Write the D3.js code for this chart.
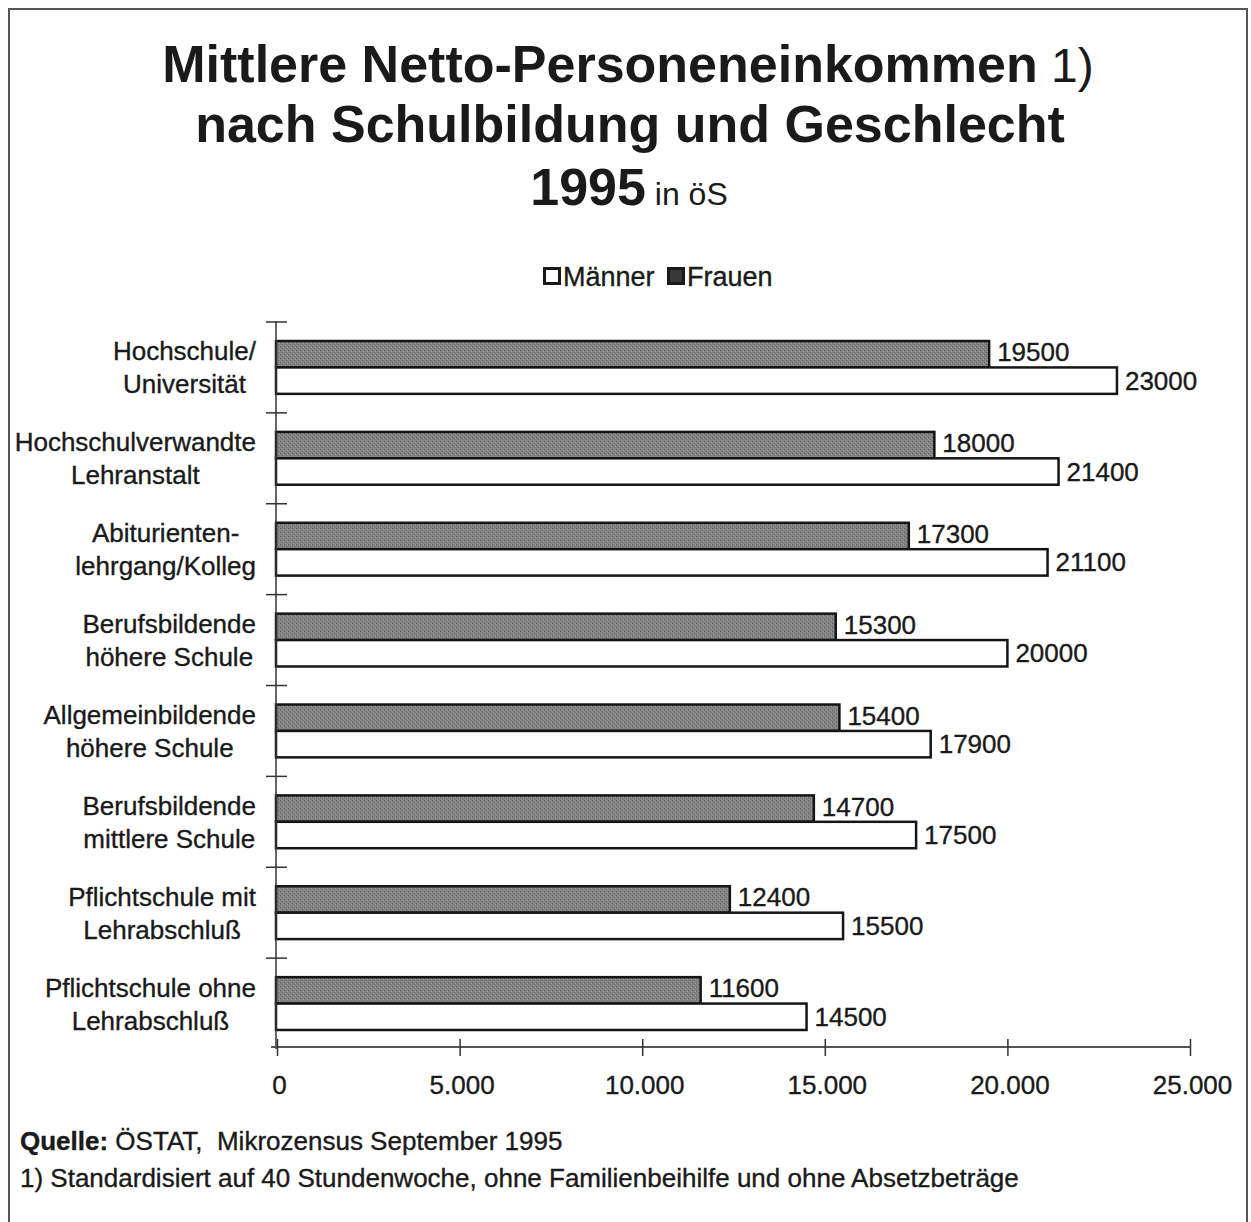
<!DOCTYPE html>
<html>
<head>
<meta charset="utf-8">
<script src="https://cdn.jsdelivr.net/npm/d3@7"></script>
<style>
  html, body { margin: 0; padding: 0; background: #fff; }
  svg { display: block; }
  text { font-family: "Liberation Sans", Arial, Helvetica, sans-serif; fill: #1a1a1a; }
  text.reg { stroke: #1a1a1a; stroke-width: 0.35px; }
</style>
</head>
<body>
<svg id="chart" width="1251" height="1222"></svg>
<script>
// Schulbildung categories (top to bottom), each label split into two lines
const categories = [
  "Hochschule/|Universität",
  "Hochschulverwandte|Lehranstalt",
  "Abiturienten-|lehrgang/Kolleg",
  "Berufsbildende|höhere Schule",
  "Allgemeinbildende|höhere Schule",
  "Berufsbildende|mittlere Schule",
  "Pflichtschule mit|Lehrabschluß",
  "Pflichtschule ohne|Lehrabschluß"
];
const frauen = [19500, 18000, 17300, 15300, 15400, 14700, 12400, 11600];
const maenner = [23000, 21400, 21100, 20000, 17900, 17500, 15500, 14500];
const series = ["Frauen", "Männer"];
const xTicks = [0, 5000, 10000, 15000, 20000, 25000];
const xTickLabels = ["0", "5.000", "10.000", "15.000", "20.000", "25.000"];

const svg = d3.select("#chart");

// outer frame
svg.append("path")
  .attr("d", "M9,1222 V9 H1247 V1222")
  .attr("fill", "none").attr("stroke", "#555").attr("stroke-width", 2);

// title block
const title = svg.append("g");
const t1 = title.append("text").attr("x", 628).attr("y", 82).attr("text-anchor", "middle");
t1.append("tspan").attr("font-weight", "bold").attr("font-size", 52).text("Mittlere Netto-Personeneinkommen");
t1.append("tspan").attr("font-size", 48).text(" 1)");
title.append("text").attr("x", 630).attr("y", 142).attr("text-anchor", "middle")
  .attr("font-weight", "bold").attr("font-size", 52).text("nach Schulbildung und Geschlecht");
const t3 = title.append("text").attr("x", 629).attr("y", 205).attr("text-anchor", "middle");
t3.append("tspan").attr("font-weight", "bold").attr("font-size", 52).text("1995");
t3.append("tspan").attr("font-size", 32).text(" in öS");

// scales
const x = d3.scaleLinear().domain([0, 25000]).range([277, 1190]);
const y = d3.scaleBand().domain(categories).range([322, 1049]).paddingInner(0).paddingOuter(0);
const ySub = d3.scaleBand().domain(series).range([0, y.bandwidth()]).paddingInner(0).paddingOuter(0.72);

// grain texture for the dark bars
const defs = svg.append("defs");
const pat = defs.append("pattern").attr("id", "grain").attr("patternUnits", "userSpaceOnUse")
  .attr("width", 4).attr("height", 4);
pat.append("rect").attr("width", 4).attr("height", 4).attr("fill", "#838383");
pat.append("rect").attr("x", 0).attr("y", 0).attr("width", 1).attr("height", 1).attr("fill", "#585858");
pat.append("rect").attr("x", 2).attr("y", 2).attr("width", 1).attr("height", 1).attr("fill", "#646464");
pat.append("rect").attr("x", 3).attr("y", 1).attr("width", 1).attr("height", 1).attr("fill", "#9e9e9e");
pat.append("rect").attr("x", 1).attr("y", 3).attr("width", 1).attr("height", 1).attr("fill", "#989898");

// legend
const legend = svg.append("g").attr("transform", "translate(0,276)");
const legendItems = [
  { name: "Männer", fill: "#ffffff", x: 543 },
  { name: "Frauen", fill: "#383838", x: 667 }
];
legendItems.forEach(d => {
  legend.append("rect").attr("x", d.x + 1.5).attr("y", -7.5).attr("width", 15).attr("height", 15)
    .attr("fill", d.fill).attr("stroke", "#1a1a1a").attr("stroke-width", 3);
  legend.append("text").attr("class", "reg").attr("x", d.x + 20).attr("y", 10)
    .attr("font-size", 27).text(d.name);
});

// bars
const rows = categories.map((c, i) => ({ cat: c, values: [
  { s: "Frauen", v: frauen[i] }, { s: "Männer", v: maenner[i] }
]}));

const g = svg.append("g");
const row = g.selectAll("g.row").data(rows).join("g").attr("class", "row")
  .attr("transform", d => `translate(0,${y(d.cat)})`);

row.selectAll("rect").data(d => d.values).join("rect")
  .attr("x", x(0) - 1)
  .attr("y", d => ySub(d.s))
  .attr("width", d => x(d.v) - x(0) + 1)
  .attr("height", ySub.bandwidth())
  .attr("fill", d => d.s === "Frauen" ? "url(#grain)" : "#ffffff")
  .attr("stroke", "#151515").attr("stroke-width", 2.5);

row.selectAll("text.val").data(d => d.values).join("text").attr("class", "val reg")
  .attr("x", d => x(d.v) + 8)
  .attr("y", d => ySub(d.s) + ySub.bandwidth() / 2 + (d.s === "Frauen" ? 7 : 9))
  .attr("font-size", 26)
  .text(d => d.v);

// category labels: two centered lines, block right-aligned to the axis
const labelRight = 256;
row.each(function(d) {
  const lines = d.cat.split("|");
  const grp = d3.select(this).append("g");
  const texts = lines.map((ln, j) => grp.append("text").attr("class", "reg")
    .attr("y", y.bandwidth() / 2 + (j === 0 ? -7 : 26))
    .attr("font-size", 26).attr("text-anchor", "middle").text(ln));
  const w = d3.max(texts, t => t.node().getComputedTextLength());
  texts.forEach(t => t.attr("x", labelRight - w / 2));
});

// y axis with cross ticks at band boundaries
const axisG = svg.append("g").attr("stroke", "#333").attr("stroke-width", 1.5);
axisG.append("line").attr("x1", 276).attr("x2", 276).attr("y1", 321).attr("y2", 1049);
const bounds = categories.map(c => y(c));
axisG.selectAll("line.yt").data(bounds).join("line").attr("class", "yt")
  .attr("x1", 266).attr("x2", 287).attr("y1", d => d).attr("y2", d => d);

// x axis with ticks crossing the line
const xAxis = d3.axisBottom(x).tickValues(xTicks).tickSize(0).tickFormat((d, i) => xTickLabels[i]);
const xg = svg.append("g").attr("transform", "translate(0,1047)").call(xAxis);
xg.select(".domain").attr("d", `M${x(0) - 6},0H${x(25000)}`).attr("stroke", "#555").attr("stroke-width", 2);
xg.selectAll(".tick line").attr("y1", -8).attr("y2", 9).attr("stroke", "#333").attr("stroke-width", 1.5);
xg.selectAll(".tick text").attr("class", "reg").attr("font-size", 26)
  .attr("font-family", "Liberation Sans, Arial, sans-serif")
  .attr("fill", "#1a1a1a").attr("y", 47).attr("dy", 0).attr("dx", 2);

// footer
const f1 = svg.append("text").attr("class", "reg").attr("x", 20).attr("y", 1150).attr("font-size", 26)
  .attr("xml:space", "preserve");
f1.append("tspan").attr("font-weight", "bold").text("Quelle:");
f1.append("tspan").text(" ÖSTAT,  Mikrozensus September 1995");
svg.append("text").attr("class", "reg").attr("x", 20).attr("y", 1187).attr("font-size", 26)
  .text("1) Standardisiert auf 40 Stundenwoche, ohne Familienbeihilfe und ohne Absetzbeträge");
</script>
</body>
</html>
